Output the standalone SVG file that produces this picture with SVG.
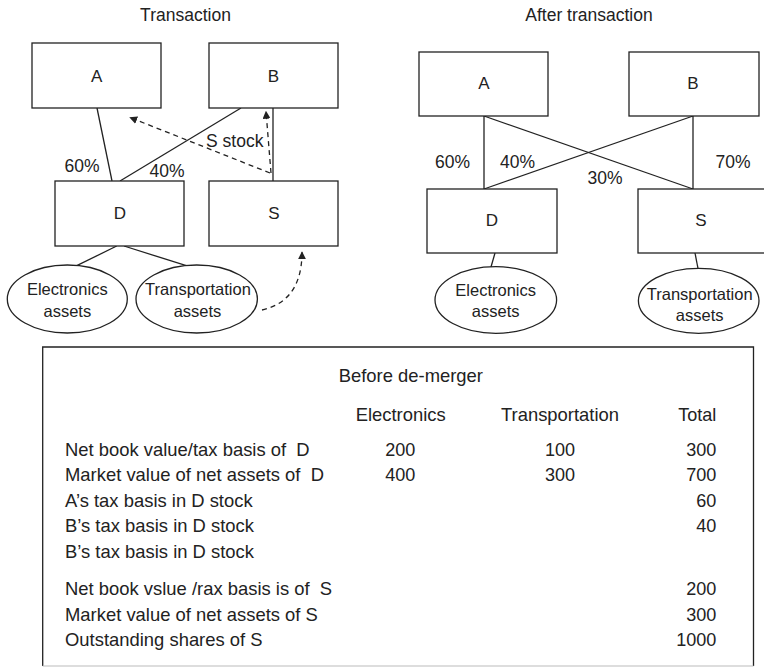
<svg xmlns="http://www.w3.org/2000/svg" width="764" height="667" viewBox="0 0 764 667">
  <style>
    text { font-family: "Liberation Sans", Arial, sans-serif; fill: #222; }
    .ttl { font-size: 17.5px; text-anchor: middle; }
    .lbl { font-size: 17px; text-anchor: middle; }
    .pct { font-size: 17.5px; text-anchor: middle; }
    .el { font-size: 16.5px; text-anchor: middle; }
    .tb { font-size: 19px; white-space: pre; }
    .mid { text-anchor: middle; }
    .end { text-anchor: end; }
    .box { fill: #fff; stroke: #222; stroke-width: 1.3; }
    .ell { fill: #fff; stroke: #222; stroke-width: 1.3; }
    .ln { fill: none; stroke: #222; stroke-width: 1.3; }
    .dash { fill: none; stroke: #222; stroke-width: 1.3; stroke-dasharray: 5 4; }
  </style>
  <defs>
    <marker id="arrow" viewBox="0 0 10 10" refX="9" refY="5" markerWidth="8" markerHeight="8" markerUnits="userSpaceOnUse" orient="auto">
      <path d="M0,0 L10,5 L0,10 Z" fill="#222"/>
    </marker>
  </defs>

  <rect width="764" height="667" fill="#fff"/>

  <!-- Section titles -->
  <text class="ttl" x="185.5" y="20.5">Transaction</text>
  <text class="ttl" x="589" y="20.5">After transaction</text>

  <!-- Connectors -->
  <g id="connectors">
    <!-- transaction: ownership lines -->
    <line class="ln" x1="97" y1="108" x2="112" y2="181"/>
    <line class="ln" x1="241" y1="108" x2="120" y2="181"/>
    <line class="ln" x1="273" y1="108" x2="273" y2="181"/>
    <line class="ln" x1="116.7" y1="246" x2="72.7" y2="267.7"/>
    <line class="ln" x1="124" y1="246" x2="192.7" y2="267.7"/>
    <!-- transaction: S stock distribution and asset transfer -->
    <path class="dash" d="M270,173 L130,117.5" marker-end="url(#arrow)"/>
    <path class="dash" d="M271,173 L266,111.5" marker-end="url(#arrow)"/>
    <path class="dash" d="M262,310 C284,305 302,290 302,252" marker-end="url(#arrow)"/>
    <!-- after transaction: ownership lines -->
    <line class="ln" x1="484" y1="116" x2="484" y2="189"/>
    <line class="ln" x1="484" y1="116" x2="693" y2="189"/>
    <line class="ln" x1="693" y1="116" x2="693" y2="189"/>
    <line class="ln" x1="693" y1="116" x2="484" y2="189"/>
    <line class="ln" x1="495" y1="253" x2="491" y2="267"/>
    <line class="ln" x1="695" y1="253" x2="698" y2="268.5"/>
  </g>

  <!-- Connector labels -->
  <g id="connector-labels">
    <text class="pct" x="82" y="172">60%</text>
    <text class="pct" x="167" y="177">40%</text>
    <text class="pct" x="234.7" y="146.7">S stock</text>
    <text class="pct" x="452.5" y="168.3">60%</text>
    <text class="pct" x="517.5" y="168.3">40%</text>
    <text class="pct" x="605" y="184.3">30%</text>
    <text class="pct" x="733" y="168.3">70%</text>
  </g>

  <!-- Transaction nodes -->
  <g id="tA"><rect class="box" x="32" y="43" width="129" height="65"/><text class="lbl" x="96.7" y="81.5">A</text></g>
  <g id="tB"><rect class="box" x="209" y="43" width="129" height="65"/><text class="lbl" x="273.5" y="81.5">B</text></g>
  <g id="tD"><rect class="box" x="55" y="181" width="129" height="65"/><text class="lbl" x="120" y="218.5">D</text></g>
  <g id="tS"><rect class="box" x="209" y="181" width="129" height="65"/><text class="lbl" x="274" y="218.5">S</text></g>
  <g id="tElec"><ellipse class="ell" cx="67.3" cy="299" rx="60" ry="34"/><text class="el" x="67.3" y="295">Electronics</text><text class="el" x="67.3" y="316.5">assets</text></g>
  <g id="tTrans"><ellipse class="ell" cx="196.7" cy="299" rx="60.7" ry="34"/><text class="el" x="198" y="295">Transportation</text><text class="el" x="197.5" y="316.5">assets</text></g>

  <!-- After-transaction nodes -->
  <g id="aA"><rect class="box" x="419" y="52" width="129" height="64"/><text class="lbl" x="484" y="89">A</text></g>
  <g id="aB"><rect class="box" x="629" y="52" width="130" height="64"/><text class="lbl" x="693" y="89">B</text></g>
  <g id="aD"><rect class="box" x="427" y="189" width="130" height="64"/><text class="lbl" x="492" y="225.7">D</text></g>
  <g id="aS"><rect class="box" x="638" y="189" width="130" height="64"/><text class="lbl" x="701" y="226">S</text></g>
  <g id="aElec"><ellipse class="ell" cx="495.8" cy="300" rx="60.8" ry="33.3"/><text class="el" x="495.7" y="296">Electronics</text><text class="el" x="495.7" y="316.7">assets</text></g>
  <g id="aTrans"><ellipse class="ell" cx="698.7" cy="300.8" rx="60.3" ry="32.5"/><text class="el" x="699.7" y="299.5">Transportation</text><text class="el" x="699.7" y="320.5">assets</text></g>

  <!-- Figures before the de-merger (slightly narrowed type) -->
  <g id="table">
    <path class="ln" d="M42.7,666 V347 H753.5 V666"/>
    <line x1="42.7" y1="666" x2="753.5" y2="666" stroke="#bbb" stroke-width="1"/>
    <text class="tb mid" transform="translate(410.8 381.7) scale(0.97 1)">Before de-merger</text>
    <text class="tb mid" transform="translate(400.7 421) scale(0.97 1)">Electronics</text>
    <text class="tb mid" transform="translate(560 421) scale(0.97 1)">Transportation</text>
    <text class="tb end" transform="translate(716.3 421) scale(0.95 1)">Total</text>

    <text class="tb" transform="translate(65 455.7) scale(0.97 1)">Net book value/tax basis of  D</text>
    <text class="tb" transform="translate(65 480.7) scale(0.97 1)">Market value of net assets of  D</text>
    <text class="tb" transform="translate(65 506.5) scale(0.97 1)">A’s tax basis in D stock</text>
    <text class="tb" transform="translate(65 532.3) scale(0.97 1)">B’s tax basis in D stock</text>
    <text class="tb" transform="translate(65 558) scale(0.97 1)">B’s tax basis in D stock</text>
    <text class="tb" transform="translate(65 595) scale(0.97 1)">Net book vslue /rax basis is of  S</text>
    <text class="tb" transform="translate(65 620.7) scale(0.97 1)">Market value of net assets of S</text>
    <text class="tb" transform="translate(65 646) scale(0.97 1)">Outstanding shares of S</text>

    <text class="tb mid" transform="translate(400.3 455.7) scale(0.95 1)">200</text>
    <text class="tb mid" transform="translate(400.3 480.7) scale(0.95 1)">400</text>
    <text class="tb mid" transform="translate(560 455.7) scale(0.95 1)">100</text>
    <text class="tb mid" transform="translate(560 480.7) scale(0.95 1)">300</text>

    <text class="tb end" transform="translate(716.3 455.7) scale(0.95 1)">300</text>
    <text class="tb end" transform="translate(716.3 480.7) scale(0.95 1)">700</text>
    <text class="tb end" transform="translate(716.3 506.5) scale(0.95 1)">60</text>
    <text class="tb end" transform="translate(716.3 532.3) scale(0.95 1)">40</text>
    <text class="tb end" transform="translate(716.3 595) scale(0.95 1)">200</text>
    <text class="tb end" transform="translate(716.3 620.7) scale(0.95 1)">300</text>
    <text class="tb end" transform="translate(716.3 646) scale(0.95 1)">1000</text>
  </g>
</svg>
